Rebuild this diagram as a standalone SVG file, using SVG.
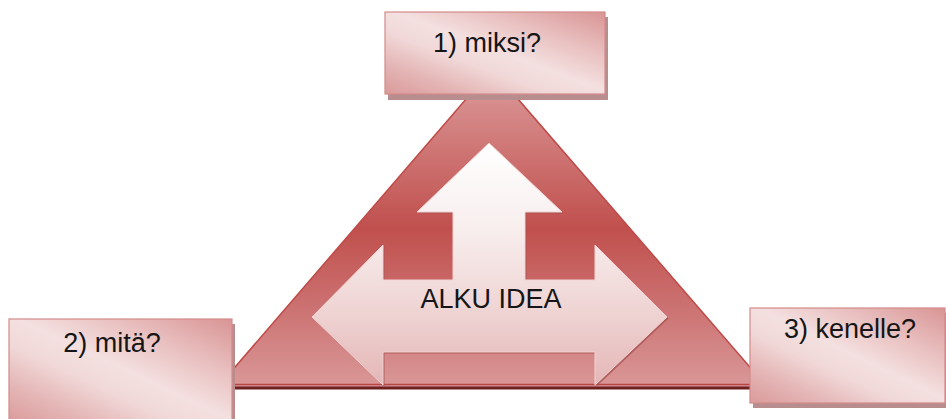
<svg xmlns="http://www.w3.org/2000/svg" width="946" height="419" viewBox="0 0 946 419">
  <defs>
    <linearGradient id="boxFill" x1="1" y1="0" x2="0" y2="1">
      <stop offset="0" stop-color="#d99494"/>
      <stop offset="0.28" stop-color="#eac2c2"/>
      <stop offset="0.48" stop-color="#f4e0e0"/>
      <stop offset="0.62" stop-color="#f1d8d8"/>
      <stop offset="0.82" stop-color="#e4b4b4"/>
      <stop offset="1" stop-color="#da9a9a"/>
    </linearGradient>
    <linearGradient id="triFill" x1="0" y1="69" x2="0" y2="388" gradientUnits="userSpaceOnUse">
      <stop offset="0" stop-color="#e0a4a4"/>
      <stop offset="0.12" stop-color="#d68a8a"/>
      <stop offset="0.5" stop-color="#c0504d"/>
      <stop offset="0.75" stop-color="#cc7272"/>
      <stop offset="1" stop-color="#da9898"/>
    </linearGradient>
    <linearGradient id="arrowFill" x1="0" y1="143" x2="0" y2="386" gradientUnits="userSpaceOnUse">
      <stop offset="0" stop-color="#ffffff"/>
      <stop offset="0.35" stop-color="#f8eeee"/>
      <stop offset="0.7" stop-color="#efd3d3"/>
      <stop offset="1" stop-color="#e4b6b6"/>
    </linearGradient>
  </defs>
  <style>
    .box { fill: url(#boxFill); stroke: #d48a8a; stroke-width: 1.2; }
    .shadow { fill: #b88d8e; }
    .label { font-family: "Liberation Sans", Arial, sans-serif; font-size: 27px; fill: #151515; text-anchor: middle; }
  </style>

  <g id="node-center">
    <polygon points="492,69 217,388 768,388" fill="url(#triFill)" stroke="#bf4a47" stroke-width="1.5"/>
    <line x1="217" y1="384.5" x2="768" y2="384.5" stroke="#b84545" stroke-width="1.5"/>
    <line x1="217" y1="388" x2="768" y2="388" stroke="#6e1f1f" stroke-width="3"/>
    <polygon points="490.5,144.5 563.5,213.5 526.5,213.5 526.5,281.5 596.5,281.5 596.5,246.5 668.5,318.5 596.5,386.5 596.5,353.5 384.5,353.5 384.5,386.5 313.5,318.5 384.5,246.5 384.5,281.5 454.5,281.5 454.5,213.5 418.5,213.5" fill="#a85252" opacity="0.8"/>
    <polygon points="489,143 562,212 525,212 525,280 595,280 595,245 667,317 595,385 595,352 383,352 383,385 312,317 383,245 383,280 453,280 453,212 417,212" fill="url(#arrowFill)" stroke="#f2d2d2" stroke-width="1"/>
    <text class="label" x="491" y="308" font-size="26">ALKU IDEA</text>
  </g>

  <g id="node-top">
    <rect class="shadow" x="388" y="17" width="220" height="83"/>
    <rect class="box" x="385" y="12" width="220" height="82"/>
    <text class="label" x="487" y="52">1) miksi?</text>
  </g>

  <g id="node-left">
    <rect class="shadow" x="12" y="324" width="223" height="100"/>
    <rect class="box" x="9" y="319" width="223" height="105"/>
    <text class="label" x="112" y="352">2) mitä?</text>
  </g>

  <g id="node-right">
    <rect class="shadow" x="753" y="313" width="195" height="95"/>
    <rect class="box" x="750" y="308" width="195" height="95"/>
    <text class="label" x="850" y="338">3) kenelle?</text>
  </g>
</svg>
